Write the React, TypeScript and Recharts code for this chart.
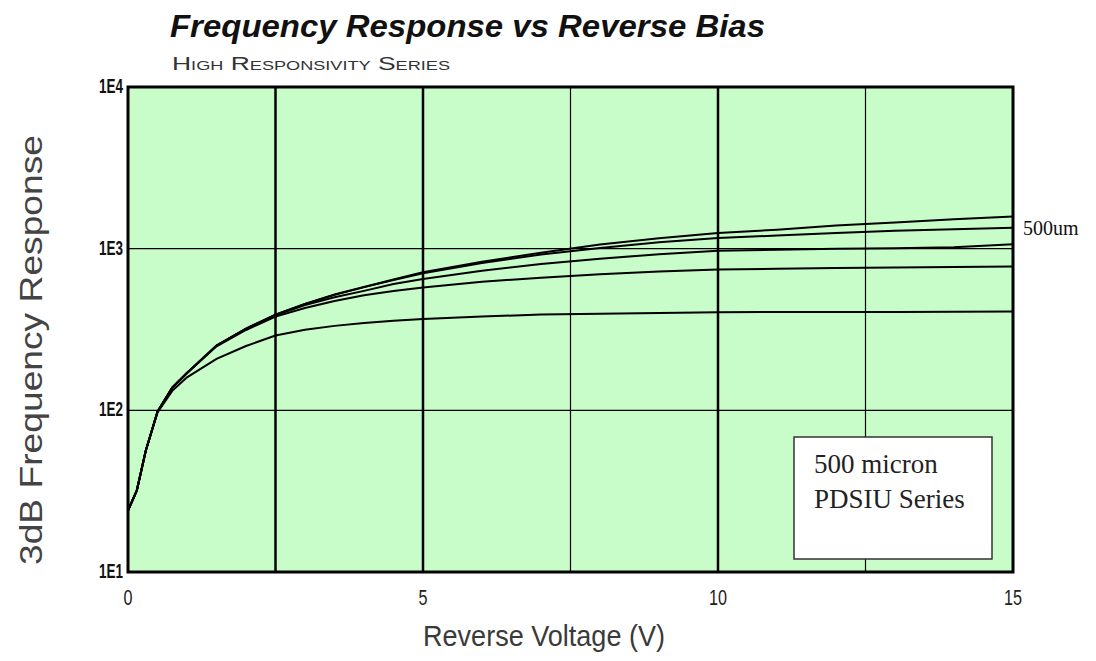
import { LineChart, Line, XAxis, YAxis, ReferenceArea, ReferenceLine } from 'recharts'

// reverse bias in volts
const volts = [0, 0.15, 0.3, 0.5, 0.75, 1, 1.5, 2, 2.5, 3, 3.5, 4, 4.5, 5, 6, 7, 8, 9, 10, 11, 12, 13, 14, 15]

// 3dB frequency response for the five curves (top to bottom at 15 V)
const curveA = [24, 32, 56, 98, 138, 170, 252, 320, 390, 455, 520, 580, 645, 715, 830, 945, 1060, 1160, 1250, 1310, 1390, 1450, 1520, 1580]
const curveB = [24, 32, 56, 98, 138, 170, 252, 320, 390, 455, 518, 578, 640, 705, 815, 920, 1010, 1095, 1165, 1205, 1250, 1290, 1320, 1345]
const curveC = [24, 32, 56, 98, 138, 170, 251, 318, 387, 448, 500, 548, 605, 650, 730, 805, 865, 925, 970, 985, 1000, 1005, 1020, 1065]
const curveD = [24, 32, 56, 98, 138, 170, 249, 314, 380, 430, 475, 515, 548, 575, 625, 662, 695, 722, 742, 752, 760, 765, 770, 775]
const curveE = [24, 32, 56, 97, 132, 160, 208, 250, 290, 315, 333, 347, 358, 367, 380, 392, 396, 400, 405, 406, 406, 406, 407, 408]

const xTicks = [0, 5, 10, 15]
const yTicks = [10, 100, 1000, 10000]
const yTickLabels = ['1E1', '1E2', '1E3', '1E4']
const xGrid = [2.5, 5, 7.5, 10, 12.5]
const xGridWidth = [2.5, 2.5, 1.2, 2.5, 1.2]
const yGrid = [100, 1000]

const rows = volts.map((v, i) => ({
  v,
  a: curveA[i],
  b: curveB[i],
  c: curveC[i],
  d: curveD[i],
  e: curveE[i],
}))

const keys = ['a', 'b', 'c', 'd', 'e']

const W = 1096
const H = 661
const sans = "'Liberation Sans', Arial, sans-serif"
const serif = "'Liberation Serif', 'Times New Roman', serif"

// narrow-looking tick text, squeezed with textLength
function XTick(props: any) {
  const { x, y, payload } = props
  const s = String(payload.value)
  return (
    <text x={x} y={y + 27} textAnchor="middle" fontSize={22} fill="#222" fontFamily={sans}
      textLength={s.length * 9} lengthAdjust="spacingAndGlyphs">
      {s}
    </text>
  )
}

function YTick(props: any) {
  const { x, y, payload } = props
  const s = yTickLabels[yTicks.indexOf(payload.value)]
  return (
    <text x={x} y={y + 6} textAnchor="end" fontSize={20} fontWeight={700} fill="#111" fontFamily={sans}
      textLength={24} lengthAdjust="spacingAndGlyphs">
      {s}
    </text>
  )
}

export default function App() {
  return (
    <div style={{ position: 'absolute', left: 0, top: 0, width: W, height: H, background: '#fff' }}>
      <LineChart width={W} height={H} data={rows} margin={{ top: 87, right: 83, bottom: 29, left: 68 }}>
        <ReferenceArea x1={0} x2={15} y1={10} y2={10000} fill="#c8fcc8" fillOpacity={1} stroke="none" />
        {xGrid.map((x, i) => (
          <ReferenceLine key={'x' + x} x={x} stroke="#000" strokeWidth={xGridWidth[i]} />
        ))}
        {yGrid.map(y => (
          <ReferenceLine key={'y' + y} y={y} stroke="#000" strokeWidth={1.2} />
        ))}
        <XAxis
          type="number"
          dataKey="v"
          domain={[0, 15]}
          ticks={xTicks}
          height={60}
          axisLine={false}
          tickLine={false}
          tickSize={6}
          tickMargin={0}
          tick={<XTick />}
        />
        <YAxis
          scale="log"
          domain={[10, 10000]}
          ticks={yTicks}
          allowDataOverflow
          width={60}
          axisLine={false}
          tickLine={false}
          tickSize={5}
          tickMargin={0}
          tick={<YTick />}
        />
        {keys.map(k => (
          <Line
            key={k}
            type="linear"
            dataKey={k}
            stroke="#000"
            strokeWidth={2}
            dot={false}
            isAnimationActive={false}
          />
        ))}
        <ReferenceArea x1={0} x2={15} y1={10} y2={10000} fill="none" stroke="#000" strokeWidth={3} />
      </LineChart>

      <svg width={W} height={H} style={{ position: 'absolute', left: 0, top: 0, pointerEvents: 'none' }}>
        <text x={170} y={37} fontSize={31} fontWeight={700} fontStyle="italic" fill="#111" fontFamily={sans}
          textLength={595} lengthAdjust="spacingAndGlyphs">
          Frequency Response vs Reverse Bias
        </text>
        <text x={172} y={70} fontSize={19} fill="#333" fontFamily={sans} style={{ fontVariant: 'small-caps' }}
          textLength={278} lengthAdjust="spacingAndGlyphs">
          High Responsivity Series
        </text>
        <text x={0} y={0} fontSize={32} fill="#444" fontFamily={sans} textAnchor="middle"
          transform="translate(42 350) rotate(-90)" textLength={430} lengthAdjust="spacingAndGlyphs">
          3dB Frequency Response
        </text>
        <text x={544} y={646} fontSize={30} fill="#3a3a3a" fontFamily={sans} textAnchor="middle"
          textLength={242} lengthAdjust="spacingAndGlyphs">
          Reverse Voltage (V)
        </text>
        <text x={1023} y={235} fontSize={20} fill="#111" fontFamily={serif}>500um</text>
        <rect x={794} y={437} width={198} height={122} fill="#fff" stroke="#333" strokeWidth={1.5} />
        <text x={814} y={473} fontSize={27} fill="#222" fontFamily={serif}>500 micron</text>
        <text x={814} y={508} fontSize={27} fill="#222" fontFamily={serif}>PDSIU Series</text>
      </svg>
    </div>
  )
}
